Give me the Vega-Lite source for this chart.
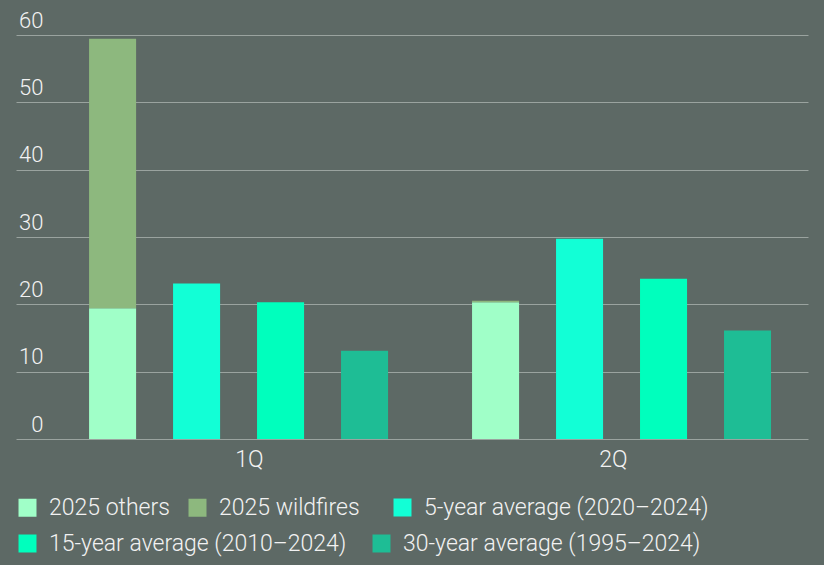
{
  "$schema": "https://vega.github.io/schema/vega-lite/v6.json",
  "width": 792,
  "height": 404,
  "autosize": "none",
  "padding": {"left": 16, "top": 35, "right": 16, "bottom": 126},
  "background": "#5d6965",
  "config": {
    "view": {"stroke": null},
    "font": "Roboto",
    "axis": {"labelFont": "Roboto", "labelFontWeight": 300, "labelColor": "#f2f2f2"},
    "legend": {
      "labelFont": "Roboto",
      "labelFontWeight": 300,
      "labelColor": "#f2f2f2",
      "labelFontSize": 23,
      "labelOffset": 10,
      "labelLimit": 400,
      "symbolType": "square",
      "symbolSize": 324,
      "symbolStrokeWidth": 0,
      "columnPadding": 16,
      "direction": "horizontal"
    }
  },
  "data": {
    "values": [
      {"quarter": "1Q", "group": "2025", "series": "2025 others", "value": 19.4},
      {"quarter": "1Q", "group": "2025", "series": "2025 wildfires", "value": 40.05},
      {"quarter": "1Q", "group": "5y", "series": "5-year average (2020–2024)", "value": 23.1},
      {"quarter": "1Q", "group": "15y", "series": "15-year average (2010–2024)", "value": 20.3},
      {"quarter": "1Q", "group": "30y", "series": "30-year average (1995–2024)", "value": 13.1},
      {"quarter": "2Q", "group": "2025", "series": "2025 others", "value": 20.3},
      {"quarter": "2Q", "group": "2025", "series": "2025 wildfires", "value": 0.25},
      {"quarter": "2Q", "group": "5y", "series": "5-year average (2020–2024)", "value": 29.75},
      {"quarter": "2Q", "group": "15y", "series": "15-year average (2010–2024)", "value": 23.8},
      {"quarter": "2Q", "group": "30y", "series": "30-year average (1995–2024)", "value": 16.1}
    ]
  },
  "encoding": {
    "x": {
      "field": "quarter",
      "type": "nominal",
      "title": null,
      "scale": {"paddingInner": 0, "paddingOuter": 0.034, "align": 1},
      "axis": {
        "labelAngle": 0,
        "labelFontSize": 23,
        "labelPadding": 9,
        "labelOffset": {"condition": {"test": "datum.value === '1Q'", "value": 16}, "value": -3},
        "domain": false,
        "ticks": false,
        "grid": false
      }
    },
    "xOffset": {
      "field": "group",
      "type": "nominal",
      "scale": {"domain": ["2025", "5y", "15y", "30y"], "paddingInner": 0.44, "paddingOuter": 0.5, "align": 0.56}
    },
    "y": {
      "field": "value",
      "type": "quantitative",
      "stack": "zero",
      "title": null,
      "scale": {"domain": [0, 60], "nice": false},
      "axis": {
        "values": [0, 10, 20, 30, 40, 50, 60],
        "labelFontSize": 22,
        "labelAlign": "right",
        "labelBaseline": "alphabetic",
        "labelPadding": -27,
        "labelOffset": -8,
        "domain": false,
        "ticks": false,
        "grid": true,
        "gridColor": "#9aa39f",
        "gridWidth": 1
      }
    },
    "order": {"field": "series", "sort": "ascending"}
  },
  "layer": [
    {
      "transform": [{"filter": "datum.group === '2025'"}],
      "mark": {"type": "bar"},
      "encoding": {
        "color": {
          "field": "series",
          "type": "nominal",
          "scale": {"domain": ["2025 others", "2025 wildfires"], "range": ["#a0ffc8", "#8db87e"]},
          "legend": {"title": null, "orient": "none", "legendX": 0, "legendY": 461, "columns": 2}
        }
      }
    },
    {
      "transform": [{"filter": "datum.group === '5y'"}],
      "mark": {"type": "bar"},
      "encoding": {
        "color": {
          "field": "series",
          "type": "nominal",
          "scale": {"range": ["#12ffd6"]},
          "legend": {"title": null, "orient": "none", "legendX": 375, "legendY": 461}
        }
      }
    },
    {
      "transform": [{"filter": "datum.group === '15y'"}],
      "mark": {"type": "bar"},
      "encoding": {
        "color": {
          "field": "series",
          "type": "nominal",
          "scale": {"range": ["#00ffbd"]},
          "legend": {"title": null, "orient": "none", "legendX": 0, "legendY": 497}
        }
      }
    },
    {
      "transform": [{"filter": "datum.group === '30y'"}],
      "mark": {"type": "bar"},
      "encoding": {
        "color": {
          "field": "series",
          "type": "nominal",
          "scale": {"range": ["#1ebd95"]},
          "legend": {"title": null, "orient": "none", "legendX": 354, "legendY": 497}
        }
      }
    }
  ],
  "resolve": {"scale": {"color": "independent"}, "legend": {"color": "independent"}}
}
